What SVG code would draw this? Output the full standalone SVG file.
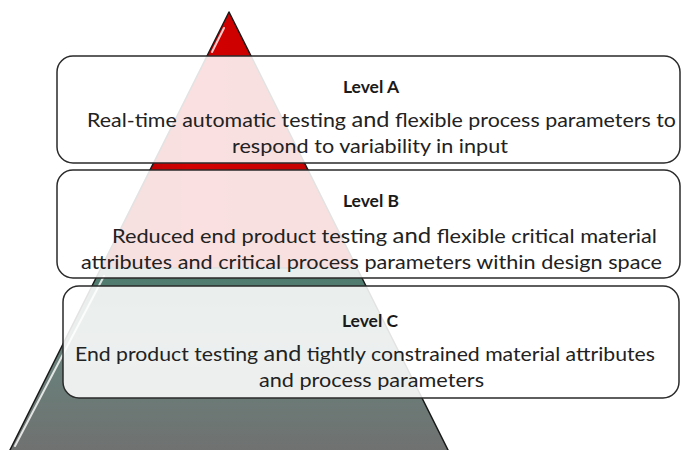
<svg xmlns="http://www.w3.org/2000/svg" width="682" height="450" viewBox="0 0 682 450">
<defs>
<linearGradient id="redG" x1="0" y1="0" x2="1" y2="0">
<stop offset="0" stop-color="#a80000"/>
<stop offset="0.35" stop-color="#d40000"/>
<stop offset="1" stop-color="#c00000"/>
</linearGradient>
<linearGradient id="greenG" x1="0" y1="0" x2="0" y2="1">
<stop offset="0" stop-color="#4c7a6d"/>
<stop offset="0.5" stop-color="#69807a"/>
<stop offset="1" stop-color="#707070"/>
</linearGradient>
<style>
.tri{stroke:#1a1a1a;stroke-width:1.5;stroke-linejoin:round}
.hl{stroke:#ffffff;stroke-width:2;stroke-opacity:0.8;fill:none;stroke-linecap:round}
.box{fill:#ffffff;fill-opacity:0.88;stroke:#2a2a2a;stroke-width:1.5}
.lvl{font-family:Lato,"Open Sans",sans-serif;font-weight:bold;font-size:17.5px;fill:#1a1a1a;text-anchor:middle}
.txt{font-family:Lato,"Open Sans",sans-serif;font-size:20px;fill:#222222}
.and{font-size:22px}
</style>
</defs>
<g id="pyramid">
<polygon class="tri" points="229,12 357,268 101,268" fill="url(#redG)"/>
<polygon class="tri" points="101,268 357,268 452,458 6,458" fill="url(#greenG)"/>
<line class="hl" x1="224" y1="28" x2="212" y2="52"/>
<line class="hl" x1="104" y1="276" x2="15" y2="446"/>
</g>
<g id="levelA">
<rect class="box" x="57" y="56" width="623" height="107" rx="16"/>
<text class="lvl" x="371" y="93">Level A</text>
<text class="txt" x="87" y="127" textLength="589" lengthAdjust="spacingAndGlyphs">Real-time automatic testing <tspan class="and">and</tspan> flexible process parameters to</text>
<text class="txt" x="232" y="153" textLength="276" lengthAdjust="spacingAndGlyphs">respond to variability in input</text>
</g>
<g id="levelB">
<rect class="box" x="57" y="170" width="623" height="108" rx="16"/>
<text class="lvl" x="371" y="207">Level B</text>
<text class="txt" x="112" y="243" textLength="545" lengthAdjust="spacingAndGlyphs">Reduced end product testing <tspan class="and">and</tspan> flexible critical material</text>
<text class="txt" x="81" y="269" textLength="581" lengthAdjust="spacingAndGlyphs">attributes and critical process parameters within design space</text>
</g>
<g id="levelC">
<rect class="box" x="63" y="286" width="616" height="112" rx="16"/>
<text class="lvl" x="370" y="327">Level C</text>
<text class="txt" x="75" y="361" textLength="580" lengthAdjust="spacingAndGlyphs">End product testing <tspan class="and">and</tspan> tightly constrained material attributes</text>
<text class="txt" x="259" y="387" textLength="225" lengthAdjust="spacingAndGlyphs">and process parameters</text>
</g>
<g id="connectors"/>
</svg>
